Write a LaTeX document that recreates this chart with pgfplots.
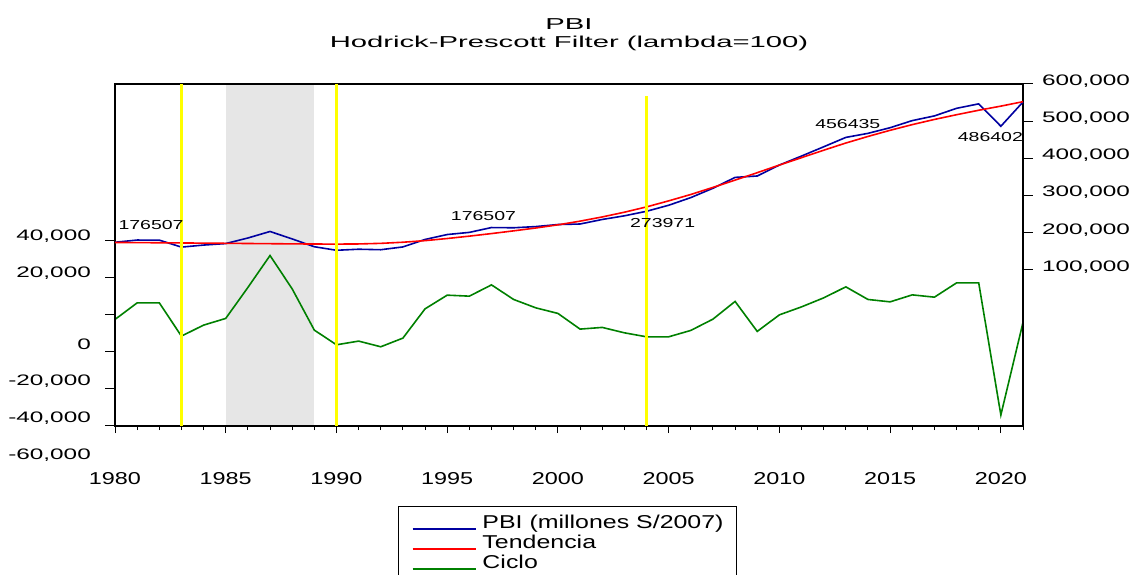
\documentclass[border=0pt]{standalone}
\usepackage{pgfplots}
\pgfplotsset{compat=1.18}
\usepackage{pgfplotstable}
\usepackage{fontspec}
\setmainfont{Liberation Sans}
% EViews text looks stretched sideways, so use fake-stretched Arial metrics
\newfontfamily\fttl{Liberation Sans}[FakeStretch=1.85]
\newfontfamily\fxl{Liberation Sans}[FakeStretch=1.36]
\newfontfamily\fyl{Liberation Sans}[FakeStretch=1.6]
\newfontfamily\flg{Liberation Sans}[FakeStretch=1.34]
\newfontfamily\fan{Liberation Sans}[FakeStretch=1.5]
\newcommand\FT{\fttl\fontsize{15.8bp}{17.7bp}\selectfont}
\newcommand\FX{\fxl\fontsize{17.2bp}{20bp}\selectfont}
\newcommand\FY{\fyl\fontsize{15.2bp}{18bp}\selectfont}
\newcommand\FL{\flg\fontsize{18.6bp}{20bp}\selectfont}
\newcommand\FA{\fan\fontsize{13bp}{15bp}\selectfont}

\definecolor{pbiblue}{RGB}{0,0,160}
\definecolor{trendred}{RGB}{255,0,0}
\definecolor{cyclegreen}{RGB}{0,128,0}
\definecolor{band}{RGB}{230,230,230}
\definecolor{vline}{RGB}{255,255,0}

% PBI, HP trend (lambda=100) and cycle
\pgfplotstableread{
year pbi trend cycle
1980 174500 174000 -2480
1981 180500 173600 6470
1982 180300 173200 6470
1983 161500 172700 -11480
1984 167000 172200 -5550
1985 171000 171700 -1940
1986 186000 171200 14770
1987 203500 170700 32020
1988 183500 170200 14020
1989 162500 169800 -8240
1990 153000 169600 -16170
1991 155800 170000 -14170
1992 154500 171600 -17240
1993 162000 174600 -12560
1994 182100 178900 3240
1995 195300 184600 10620
1996 201100 191000 10080
1997 214100 197900 16170
1998 213500 205200 8300
1999 216700 212900 3780
2000 222200 221400 760
2001 223600 231300 -7700
2002 235800 242600 -6790
2003 245600 255300 -9700
2004 257800 269600 -11860
2005 274000 285800 -11860
2006 294600 303000 -8410
2007 319700 322000 -2320
2008 348900 341600 7230
2009 352700 361600 -8950
2010 382100 382100 0
2011 406300 402000 4300
2012 431200 422000 9170
2013 456400 441300 15100
2014 467300 459000 8300
2015 482500 475500 7010
2016 501600 490800 10780
2017 514200 504700 9540
2018 534600 517400 17250
2019 546600 529400 17250
2020 486400 540500 -54060
2021 551700 552500 -4090
}\hp

\begin{document}
\begin{tikzpicture}
\pgfplotsset{every axis/.append style={
  scale only axis, width=908bp, height=342bp,
  xmin=1980, xmax=2021, tick align=outside,
  scaled x ticks=false, scaled y ticks=false,
  axis line style={line width=1.1bp},
  every tick/.style={black, line width=1bp}}}

% left scale: cycle
\begin{axis}[
  ymin=-60000, ymax=124600,
  xtick=\empty,
  ytick pos=left,
  ytick={40000,20000,0},
  yticklabels={{40,000},{20,000},{}},
  extra y ticks={-20000,-40000,-60000},
  extra y tick labels={0,{-20,000},{-40,000}},
  extra y tick style={yticklabel style={yshift=3bp}},
  yticklabel style={font=\FY, anchor=east, inner sep=0pt, xshift=-14bp, yshift=4.5bp},
  major tick length=10bp,
  axis on top, clip=false,
  title={PBI\\Hodrick-Prescott Filter (lambda=100)},
  title style={at={(0.5,1)}, anchor=south, inner sep=0pt, text depth=0pt,
    yshift=30.5bp, align=center, font=\FT},
]
\addplot[fill=band, draw=none, forget plot] coordinates
  {(1985,-60000) (1985,124600) (1989,124600) (1989,-60000)} -- cycle;
\addplot[cyclegreen, line width=1.6bp] table[x=year, y=cycle] {\hp};
\node[anchor=east, inner sep=0pt, font=\FY] at ([xshift=-24bp, yshift=-29.3bp]rel axis cs:0,0) {-60,000};
\end{axis}

% right scale: PBI and trend
\begin{axis}[
  ymin=-319400, ymax=600000,
  axis x line=none, axis y line*=right,
  ytick={100000,200000,300000,400000,500000,600000},
  yticklabels={{100,000},{200,000},{300,000},{400,000},{500,000},{600,000}},
  yticklabel style={font=\FY, anchor=center, inner sep=0pt, xshift=53bp, yshift=3bp},
  major tick length=10bp,
  clip=false,
  legend style={at={(0.312,-0.2339)}, anchor=north west, draw=black, line width=0.8bp,
    inner xsep=13bp, inner ysep=9bp, column sep=6bp, row sep=0pt,
    nodes={anchor=base west, inner sep=0pt, text height=13.3bp, text depth=6.7bp, font=\FL}},
  legend image code/.code={\draw[#1, line width=1.8bp] (0bp,0bp) -- (63bp,0bp);},
]
\addplot[pbiblue, line width=1.6bp] table[x=year, y=pbi] {\hp};
\addlegendentry{PBI (millones S/2007)}
\addplot[trendred, line width=1.6bp] table[x=year, y=trend] {\hp};
\addlegendentry{Tendencia}
\addlegendimage{cyclegreen}
\addlegendentry{Ciclo}
% marker lines
\addplot[vline, line width=2.2bp, forget plot] coordinates {(1983,-319400) (1983,600000)};
\addplot[vline, line width=2.2bp, forget plot] coordinates {(1990,-319400) (1990,600000)};
\addplot[vline, line width=2.2bp, forget plot] coordinates {(2004,-319400) (2004,567700)};
% value labels
\node[anchor=west, inner sep=0pt, font=\FA] at (axis cs:1980.15,221750) {176507};
\node[anchor=west, inner sep=0pt, font=\FA] at (axis cs:1995.16,244340) {176507};
\node[anchor=west, inner sep=0pt, font=\FA] at (axis cs:2003.25,226330) {273971};
\node[anchor=west, inner sep=0pt, font=\FA] at (axis cs:2011.61,491930) {456435};
\node[anchor=west, inner sep=0pt, font=\FA] at (axis cs:2018.05,457520) {486402};
\end{axis}

% x ticks
\begin{axis}[
  ymin=0, ymax=1, hide y axis, axis x line*=bottom,
  x axis line style={draw=none},
  xtick={1980,1985,1990,1995,2000,2005,2010,2015,2020},
  xticklabels={1980,1985,1990,1995,2000,2005,2010,2015,2020},
  minor xtick={1980,1981,...,2021},
  major tick length=7bp, minor tick length=4bp,
  xticklabel style={font=\FX, anchor=base, inner sep=0pt, yshift=-51bp},
]
\end{axis}

\pgfresetboundingbox
\useasboundingbox (-115bp,-149bp) rectangle (1021bp,426bp);
\end{tikzpicture}
\end{document}
